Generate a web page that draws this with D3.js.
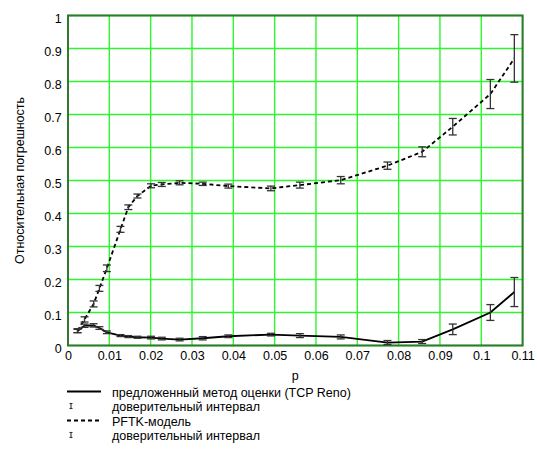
<!DOCTYPE html>
<html>
<head>
<meta charset="utf-8">
<script src="https://cdn.jsdelivr.net/npm/d3@7"></script>
<style>
  html, body { margin: 0; padding: 0; background: #fff; }
  svg { display: block; font-family: "Liberation Sans", Arial, sans-serif; }
</style>
</head>
<body>
<div id="chart"></div>
<script>
// ---- data ----
const pValues = [0.0023, 0.0040, 0.0062, 0.0076, 0.0094, 0.0127, 0.0146, 0.0168, 0.0201, 0.0227, 0.0270, 0.0326, 0.0388, 0.0491, 0.0561, 0.0660, 0.0773, 0.0857, 0.0931, 0.1022, 0.1080];
const renoValues = [0.044, 0.060, 0.061, 0.053, 0.040, 0.030, 0.027, 0.025, 0.024, 0.021, 0.018, 0.022, 0.028, 0.033, 0.030, 0.026, 0.009, 0.012, 0.049, 0.100, 0.162];
const renoErr    = [0.005, 0.005, 0.005, 0.004, 0.004, 0.003, 0.003, 0.003, 0.004, 0.004, 0.004, 0.005, 0.004, 0.004, 0.006, 0.006, 0.006, 0.006, 0.016, 0.024, 0.044];
const pftkValues = [0.045, 0.079, 0.126, 0.173, 0.234, 0.352, 0.419, 0.453, 0.484, 0.488, 0.493, 0.490, 0.483, 0.476, 0.486, 0.501, 0.545, 0.587, 0.663, 0.762, 0.870];
const pftkErr    = [0.006, 0.008, 0.009, 0.009, 0.010, 0.009, 0.007, 0.006, 0.006, 0.006, 0.006, 0.005, 0.006, 0.007, 0.009, 0.011, 0.011, 0.015, 0.025, 0.044, 0.072];
const xTicks = [0, 0.01, 0.02, 0.03, 0.04, 0.05, 0.06, 0.07, 0.08, 0.09, 0.1, 0.11];
const yTicks = [0, 0.1, 0.2, 0.3, 0.4, 0.5, 0.6, 0.7, 0.8, 0.9, 1];
const xLabel = "p";
const yLabel = "Относительная погрешность";
const legendLabels = ["предложенный метод оценки (TCP Reno)", "доверительный интервал", "PFTK-модель", "доверительный интервал"];

// ---- layout ----
const W = 537, H = 453;
const L = 68, R = 522.6, T = 15.5, B = 345.5;

const svg = d3.select("#chart").append("svg").attr("width", W).attr("height", H);
const x = d3.scaleLinear().domain([0, 0.11]).range([L, R]);
const y = d3.scaleLinear().domain([0, 1]).range([B, T]);

// grid
const grid = svg.append("g");
grid.selectAll(".vx").data(xTicks).join("line")
  .attr("x1", d => x(d)).attr("x2", d => x(d)).attr("y1", T).attr("y2", B)
  .attr("stroke", "#2ef52e").attr("stroke-width", 1.4);
grid.selectAll(".hy").data(yTicks).join("line")
  .attr("x1", L).attr("x2", R).attr("y1", d => y(d)).attr("y2", d => y(d))
  .attr("stroke", "#2ef52e").attr("stroke-width", 1.4);

// axes (tick labels only)
const xAxis = d3.axisBottom(x).tickValues(xTicks).tickSize(0).tickPadding(0).tickFormat(d3.format("~g"));
const gx = svg.append("g").attr("transform", `translate(0,${B})`).call(xAxis);
gx.select(".domain").remove();
gx.selectAll("text").attr("font-size", 12.5).attr("fill", "#000").attr("font-family", "Liberation Sans, Arial, sans-serif")
  .attr("y", 14.5).attr("dy", 0);

const yAxis = d3.axisLeft(y).tickValues(yTicks).tickSize(0).tickPadding(0).tickFormat(d3.format("~g"));
const gy = svg.append("g").attr("transform", `translate(${L - 6.3},0)`).call(yAxis);
gy.select(".domain").remove();
gy.selectAll("text").attr("font-size", 12.5).attr("fill", "#000").attr("font-family", "Liberation Sans, Arial, sans-serif")
  .attr("x", 0).attr("dy", 6.5);

// frame
svg.append("rect").attr("x", L).attr("y", T).attr("width", R - L).attr("height", B - T)
  .attr("fill", "none").attr("stroke", "#2f7a2f").attr("stroke-width", 2);

// lines
const line = d3.line().x((d, i) => x(pValues[i])).y(d => y(d));
svg.append("path").datum(renoValues).attr("d", line)
  .attr("fill", "none").attr("stroke", "#000").attr("stroke-width", 1.8);
svg.append("path").datum(pftkValues).attr("d", line)
  .attr("fill", "none").attr("stroke", "#000").attr("stroke-width", 1.8).attr("stroke-dasharray", "4,3");

// error bars
function errorBars(vals, errs) {
  const g = svg.append("g").attr("stroke", "#333").attr("stroke-width", 1.3).attr("fill", "none");
  vals.forEach((v, i) => {
    const cx = x(pValues[i]), y1 = y(v - errs[i]), y2 = y(v + errs[i]);
    g.append("line").attr("x1", cx).attr("x2", cx).attr("y1", y1).attr("y2", y2);
    g.append("line").attr("x1", cx - 4).attr("x2", cx + 4).attr("y1", y1).attr("y2", y1);
    g.append("line").attr("x1", cx - 4).attr("x2", cx + 4).attr("y1", y2).attr("y2", y2);
  });
}
errorBars(renoValues, renoErr);
errorBars(pftkValues, pftkErr);

// axis titles
svg.append("text").attr("x", (L + R) / 2).attr("y", 380).attr("text-anchor", "middle")
  .attr("font-size", 12.5).text(xLabel);
svg.append("text").attr("transform", `translate(24,${(T + B) / 2}) rotate(-90)`).attr("text-anchor", "middle")
  .attr("font-size", 12.5).text(yLabel);

// legend
const rowsY = [396.5, 411, 425.5, 440];
const lg = svg.append("g");
legendLabels.forEach((t, i) => {
  lg.append("text").attr("x", 112).attr("y", rowsY[i]).attr("font-size", 12.5).text(t);
});
lg.append("line").attr("x1", 67).attr("x2", 101).attr("y1", rowsY[0] - 5).attr("y2", rowsY[0] - 5)
  .attr("stroke", "#000").attr("stroke-width", 1.8);
lg.append("line").attr("x1", 67).attr("x2", 101).attr("y1", rowsY[2] - 5).attr("y2", rowsY[2] - 5)
  .attr("stroke", "#000").attr("stroke-width", 1.8).attr("stroke-dasharray", "4,3");
[1, 3].forEach(i => {
  const cy = rowsY[i] - 5;
  const g = lg.append("g").attr("stroke", "#333").attr("stroke-width", 1.1);
  g.append("line").attr("x1", 71).attr("x2", 71).attr("y1", cy - 2.5).attr("y2", cy + 2.5);
  g.append("line").attr("x1", 69.5).attr("x2", 72.5).attr("y1", cy - 2.5).attr("y2", cy - 2.5);
  g.append("line").attr("x1", 69.5).attr("x2", 72.5).attr("y1", cy + 2.5).attr("y2", cy + 2.5);
});
</script>
</body>
</html>
